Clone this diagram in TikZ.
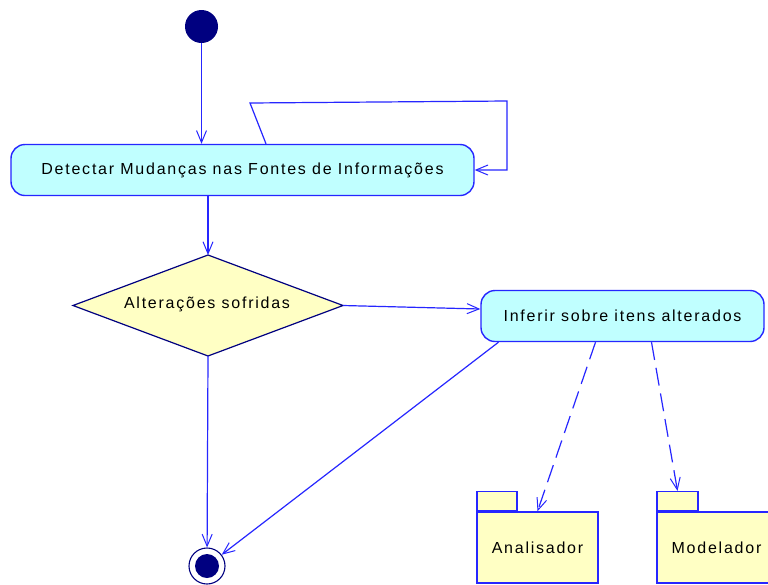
\documentclass[tikz,border=0pt]{standalone}
\usepackage{fontspec}
\setmainfont{Liberation Sans}[LetterSpace=11]
\usetikzlibrary{arrows.meta}

\definecolor{umlblue}{HTML}{2626FF}
\definecolor{umlnavy}{HTML}{000080}
\definecolor{actfill}{HTML}{C0FFFF}
\definecolor{notefill}{HTML}{FFFFC4}

\tikzset{
  umlfont/.style={font=\fontsize{16}{19}\selectfont},
  activity/.style={draw=umlblue, line width=1.4pt, fill=actfill,
    rounded corners=14pt, minimum height=51pt, inner sep=0pt, umlfont},
  decisionlabel/.style={inner sep=0pt, umlfont},
  decisionshape/.style={draw=umlnavy, line width=1.2pt, fill=notefill},
  startdot/.style={circle, fill=umlnavy, minimum size=33pt, inner sep=0pt},
  finalring/.style={circle, draw=umlnavy, line width=1.1pt, fill=white,
    minimum size=36pt, inner sep=0pt},
  finaldot/.style={circle, fill=umlnavy, minimum size=24pt, inner sep=0pt},
  pkgbody/.style={draw=umlblue, line width=1.4pt, fill=notefill,
    inner sep=0pt, umlfont},
  pkgtab/.style={draw=umlblue, line width=1.4pt, fill=notefill,
    minimum width=40pt, minimum height=19pt, inner sep=0pt, anchor=south west},
  flow/.style={draw=umlblue, line width=1.2pt,
    -{Straight Barb[length=12pt,width=10pt,line width=1pt]}},
  depend/.style={flow, dash pattern=on 18pt off 8pt}
}

\begin{document}
\begin{tikzpicture}[x=1pt,y=-1pt]
\useasboundingbox[fill=white] (0,0) rectangle (768,584);

% states and activities
\node[startdot] (start) at (201.5,26.5) {};
\node[activity, minimum width=463pt] (detect) at (242.5,170)
  {Detectar Mudanças nas Fontes de Informações};

% decision: a diamond drawn from its four corners
\coordinate (choiceN) at (208,255);
\coordinate (choiceE) at (343,305.5);
\coordinate (choiceS) at (208,356);
\coordinate (choiceW) at (73,305.5);
\path[decisionshape] (choiceN) -- (choiceE) -- (choiceS) -- (choiceW) -- cycle;
\node[decisionlabel] (choice) at (207,304) {Alterações sofridas};

\node[activity, minimum width=283pt] (infer) at (622.5,316)
  {Inferir sobre itens alterados};
\node[finalring] (end) at (207,566) {};
\node[finaldot] (enddot) at (end) {};

% packages
\node[pkgbody, minimum width=121pt, minimum height=71pt] (ana) at (537.5,547.5) {Analisador};
\node[pkgtab] (anatab) at (ana.north west) {};
\node[pkgbody, minimum width=119pt, minimum height=71pt] (mod) at (716.5,547.5) {Modelador};
\node[pkgtab, minimum width=41pt] (modtab) at (mod.north west) {};

% bend points of the self transition
\coordinate (loopA) at (250,103);
\coordinate (loopB) at (507,101);

% transitions
\draw[flow] (start) -- (start |- detect.north);
\draw[flow] ([xshift=23.5pt]detect.north) -- (loopA) -- (loopB)
  -- (loopB |- detect.east) -- (detect.east);
\draw[flow] (choiceN |- detect.south) -- (choiceN);
\draw[flow] (choiceE) -- ([yshift=7pt]infer.west);
\draw[flow] (choiceS) -- (end);
\draw[flow] ([xshift=-124pt]infer.south) -- (end);

% dependencies
\draw[depend] ([xshift=-27pt]infer.south) -- (ana.north);
\draw[depend] ([xshift=29pt]infer.south) -- (modtab.north);
\end{tikzpicture}
\end{document}
